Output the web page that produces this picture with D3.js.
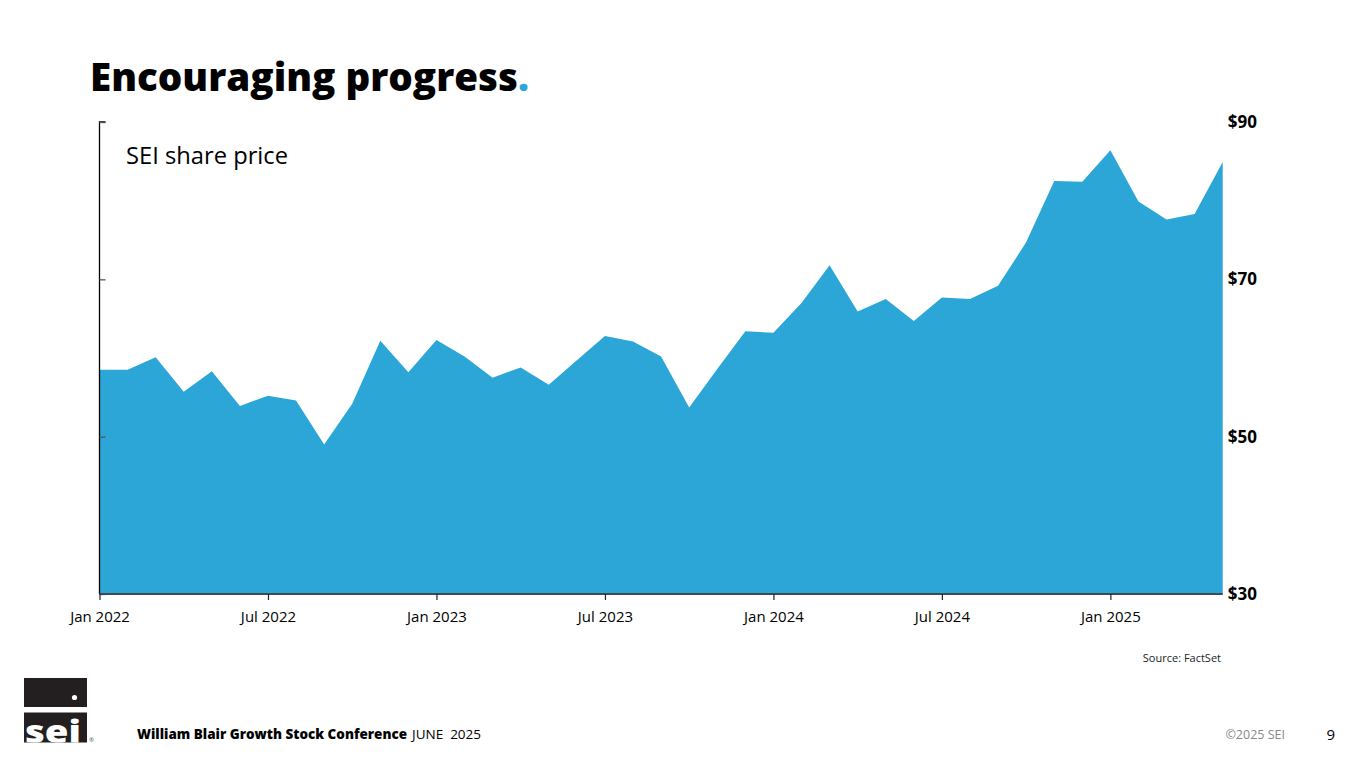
<!DOCTYPE html>
<html>
<head>
<meta charset="utf-8">
<script src="https://cdn.jsdelivr.net/npm/d3@7"></script>
<style>
  html, body { margin: 0; padding: 0; background: #ffffff; }
  svg { display: block; }
</style>
</head>
<body>
<svg id="chart" width="1365" height="768"></svg>
<script>
// ---- data (monthly SEI share price, Jan 2022 – May 2025) ----
const months = d3.timeMonth.range(new Date(2022, 0, 1), new Date(2025, 5, 1));
const prices = [
  58.5, 58.5, 60.1, 55.7, 58.3, 53.9, 55.2, 54.6, 49.0, 54.2, 62.2, 58.2,
  62.3, 60.2, 57.5, 58.8, 56.6, 59.7, 62.8, 62.1, 60.2, 53.7, 58.6, 63.4,
  63.2, 67.0, 71.8, 65.9, 67.5, 64.7, 67.7, 67.5, 69.2, 74.7, 82.5, 82.4,
  86.4, 79.9, 77.6, 78.3, 84.9
];
const xTickMonths = ["Jan 2022", "Jul 2022", "Jan 2023", "Jul 2023", "Jan 2024", "Jul 2024", "Jan 2025"];
const yTicks = [30, 50, 70, 90];
const yTickLabels = ["$30", "$50", "$70", "$90"];

(function () {
const fmt = d3.timeFormat("%b %Y");
const data = months.map((m, i) => ({ key: fmt(m), v: prices[i] }));

const svg = d3.select("#chart");
const pLeft = 99.5, pRight = 1222.7, pTop = 122, pBottom = 594;
const blue = "#2ca5d7";
const font = "'Open Sans', 'Noto Sans', sans-serif";

const x = d3.scalePoint().domain(data.map(d => d.key)).range([pLeft, pRight]);
const y = d3.scaleLinear().domain([30, 90]).range([pBottom, pTop]);

// Title
const title = svg.append("text")
  .attr("x", 90).attr("y", 91)
  .style("font-family", font)
  .style("font-weight", 800)
  .style("font-size", "38px")
  .attr("fill", "#000");
title.append("tspan").text("Encouraging progress").attr("textLength", 428).attr("lengthAdjust", "spacingAndGlyphs");
title.append("tspan").text(".").attr("fill", blue);

// Area
const area = d3.area()
  .x(d => x(d.key))
  .y0(y(30))
  .y1(d => y(d.v));
svg.append("path").datum(data).attr("d", area).attr("fill", blue);

// Left axis (ticks inward, no labels)
const gl = svg.append("g").attr("transform", `translate(${pLeft},0)`)
  .call(d3.axisRight(y).tickValues(yTicks).tickSize(6).tickFormat(""));
gl.select(".domain").attr("stroke", "#000").attr("stroke-width", 1.3).attr("d", `M6,${pTop}H0V${pBottom}`);
gl.selectAll(".tick line").attr("stroke", "#555").attr("stroke-width", 1.3);

// Right labels
const gr = svg.append("g").attr("transform", `translate(${pRight},0)`)
  .call(d3.axisRight(y).tickValues(yTicks).tickSize(0).tickPadding(5)
    .tickFormat((d, i) => yTickLabels[i]));
gr.select(".domain").remove();
gr.selectAll(".tick text")
  .style("font-family", font)
  .style("font-weight", 700).style("font-size", "17px").attr("fill", "#000");

// Bottom axis
const gx = svg.append("g").attr("transform", `translate(0,${pBottom})`)
  .call(d3.axisBottom(x).tickValues(xTickMonths).tickSize(6).tickPadding(11));
gx.select(".domain").attr("stroke", "#3c4a58").attr("stroke-width", 2).attr("d", `M${pLeft},0H${pRight}`);
gx.selectAll(".tick line").attr("stroke", "#222").attr("stroke-width", 1.2);
gx.selectAll(".tick text")
  .style("font-family", font)
  .style("font-size", "15px").attr("fill", "#000");

// Chart label
svg.append("text").attr("x", 126).attr("y", 164)
  .style("font-family", font)
  .style("font-size", "24px").attr("fill", "#000")
  .attr("textLength", 162).attr("lengthAdjust", "spacingAndGlyphs")
  .text("SEI share price");

// Source
svg.append("text").attr("x", 1221).attr("y", 662).attr("text-anchor", "end")
  .style("font-family", font)
  .style("font-size", "11px").attr("fill", "#222")
  .text("Source: FactSet");

// Logo
svg.append("rect").attr("x", 24).attr("y", 678).attr("width", 63).attr("height", 29).attr("fill", "#231f20");
svg.append("circle").attr("cx", 74.5).attr("cy", 697.5).attr("r", 2.6).attr("fill", "#fff");
svg.append("clipPath").attr("id", "logoClip")
  .append("rect").attr("x", 24).attr("y", 712.5).attr("width", 63).attr("height", 30);
svg.append("rect").attr("x", 24).attr("y", 712.5).attr("width", 63).attr("height", 30).attr("fill", "#231f20");
svg.append("text").attr("x", 25).attr("y", 743).attr("clip-path", "url(#logoClip)")
  .style("font-family", font).style("font-weight", 800)
  .style("font-size", "32px").attr("fill", "#fff")
  .attr("textLength", 56).attr("lengthAdjust", "spacingAndGlyphs")
  .text("sei");
svg.append("text").attr("x", 89).attr("y", 742)
  .style("font-family", font).style("font-size", "6px").attr("fill", "#555")
  .text("®");

// Footer
const foot = svg.append("text").attr("x", 137).attr("y", 739)
  .style("font-family", font)
  .style("font-size", "13.5px").attr("fill", "#000");
foot.append("tspan").style("font-weight", 800).attr("textLength", 270).attr("lengthAdjust", "spacingAndGlyphs")
  .text("William Blair Growth Stock Conference");
foot.append("tspan").style("font-weight", 400).attr("dx", 5).style("white-space", "pre").text("JUNE  2025");

svg.append("text").attr("x", 1285).attr("y", 739).attr("text-anchor", "end")
  .style("font-family", font)
  .style("font-size", "12.5px").attr("fill", "#888").text("©2025 SEI");
svg.append("text").attr("x", 1335).attr("y", 740).attr("text-anchor", "end")
  .style("font-family", font)
  .style("font-size", "15px").attr("fill", "#000").text("9");
})();
</script>
</body>
</html>
